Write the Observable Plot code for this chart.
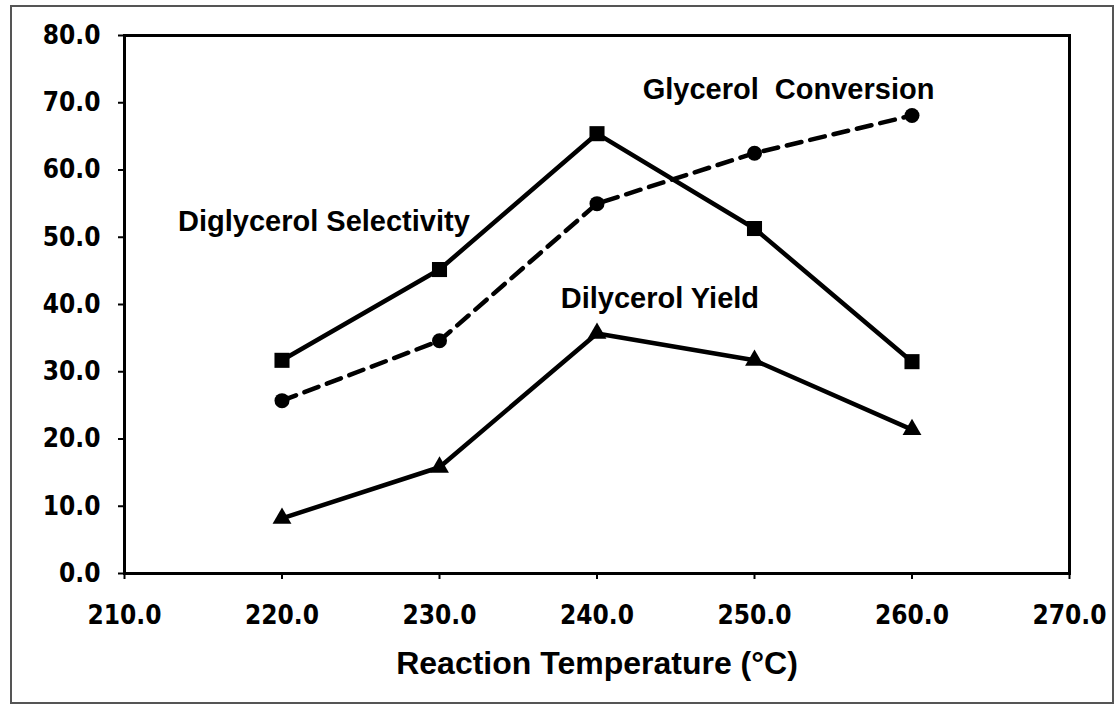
<!DOCTYPE html>
<html>
<head>
<meta charset="utf-8">
<script src="https://cdn.jsdelivr.net/npm/d3@7"></script>
<script src="https://cdn.jsdelivr.net/npm/@observablehq/plot@0.6"></script>
<style>
  html, body { margin: 0; padding: 0; background: #fff; }
  #wrap { position: relative; width: 1114px; height: 704px; }
  #border { position: absolute; left: 10px; top: 5px; width: 1100px; height: 695px; border: 2px solid #555; pointer-events: none; }
</style>
</head>
<body>
<div id="wrap"><div id="border"></div></div>
<script>
const temps = [220, 230, 240, 250, 260];
const selectivity = [31.7, 45.2, 65.4, 51.3, 31.5];
const conversion = [25.7, 34.6, 55.0, 62.5, 68.1];
const yieldVals = [8.2, 15.8, 35.7, 31.7, 21.4];

const xTicks = [210, 220, 230, 240, 250, 260, 270];
const yTicks = [0, 10, 20, 30, 40, 50, 60, 70, 80];

const labelTexts = ["Glycerol  Conversion", "Diglycerol Selectivity", "Dilycerol Yield"];
const labelX = [242.9, 213.4, 237.7];
const labelY = [72.0, 52.3, 40.9];

const xTitle = "Reaction Temperature (°C)";

const sel = temps.map((t, i) => ({t, v: selectivity[i]}));
const conv = temps.map((t, i) => ({t, v: conversion[i]}));
const yld = temps.map((t, i) => ({t, v: yieldVals[i]}));
const labels = labelTexts.map((s, i) => ({s, x: labelX[i], y: labelY[i]}));

const tickFont = "'DejaVu Sans Condensed', 'DejaVu Sans', sans-serif";
const textFont = "'Liberation Sans', Arial, sans-serif";

const chart = Plot.plot({
  width: 1114,
  height: 704,
  marginTop: 35,
  marginBottom: 131,
  marginLeft: 124,
  marginRight: 45,
  style: {background: "transparent", color: "black"},
  x: {domain: [210, 270]},
  y: {domain: [0, 80]},
  marks: [
    Plot.axisY({ticks: yTicks, tickFormat: d => d.toFixed(1), tickSize: 6, tickPadding: 18,
      fontSize: 26, fontWeight: "bold", fontFamily: tickFont, strokeWidth: 2, label: null}),
    Plot.axisX({ticks: xTicks, tickFormat: d => d.toFixed(1), tickSize: 6, tickPadding: 26,
      fontSize: 26, fontWeight: "bold", fontFamily: tickFont, strokeWidth: 2, label: null}),
    Plot.frame({stroke: "black", strokeWidth: 3}),
    Plot.line(sel, {x: "t", y: "v", stroke: "black", strokeWidth: 4.5}),
    Plot.line(conv, {x: "t", y: "v", stroke: "black", strokeWidth: 4.5, strokeDasharray: "15,9"}),
    Plot.line(yld, {x: "t", y: "v", stroke: "black", strokeWidth: 4.5}),
    Plot.dot(sel, {x: "t", y: "v", symbol: "square", r: 8.5, fill: "black"}),
    Plot.dot(conv, {x: "t", y: "v", symbol: "circle", r: 7.5, fill: "black"}),
    Plot.dot(yld, {x: "t", y: "v", symbol: "triangle", r: 7, fill: "black"}),
    Plot.text(labels, {x: "x", y: "y", text: "s", textAnchor: "start", fontSize: 29,
      fontWeight: "bold", fontFamily: textFont, fill: "black"}),
    Plot.text([xTitle], {frameAnchor: "bottom", dy: 100, text: d => d, fontSize: 32,
      fontWeight: "bold", fontFamily: textFont, fill: "black"})
  ]
});
document.getElementById("wrap").prepend(chart);
</script>
</body>
</html>
